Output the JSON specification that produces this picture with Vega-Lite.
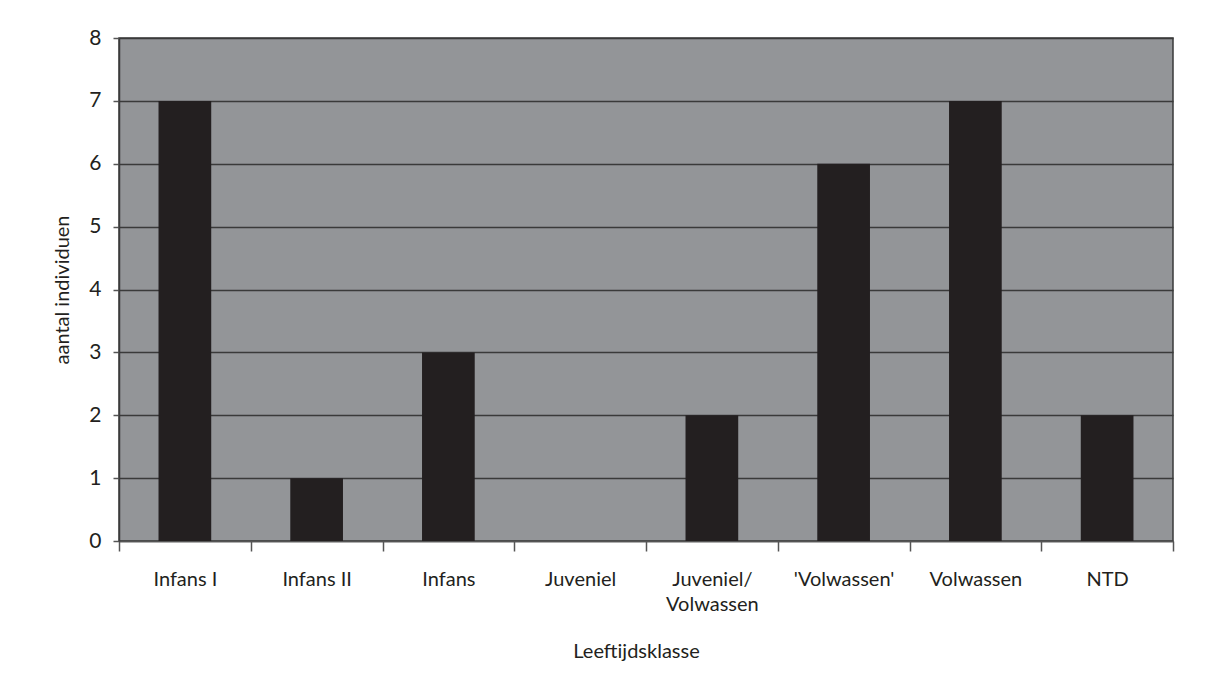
{
  "$schema": "https://vega.github.io/schema/vega-lite/v6.json",
  "autosize": {"type": "none"},
  "width": 1054,
  "height": 503,
  "padding": {"left": 119, "top": 38, "right": 32, "bottom": 132},
  "background": "white",
  "data": {
    "values": [
      {"klasse": "Infans I", "aantal": 7},
      {"klasse": "Infans II", "aantal": 1},
      {"klasse": "Infans", "aantal": 3},
      {"klasse": "Juveniel", "aantal": 0},
      {"klasse": "Juveniel/Volwassen", "aantal": 2},
      {"klasse": "'Volwassen'", "aantal": 6},
      {"klasse": "Volwassen", "aantal": 7},
      {"klasse": "NTD", "aantal": 2}
    ]
  },
  "mark": {"type": "bar", "color": "#231f20", "width": {"band": 0.4}},
  "encoding": {
    "x": {
      "field": "klasse",
      "type": "nominal",
      "sort": null,
      "scale": {"paddingInner": 0, "paddingOuter": 0},
      "axis": {
        "title": "Leeftijdsklasse",
        "titleFont": "Lato",
        "titleFontSize": 20,
        "titleFontWeight": "normal",
        "titleColor": "#231f20",
        "titleX": 517,
        "titleY": 110,
        "titleBaseline": "middle",
        "labelAngle": 0,
        "labelFont": "Lato",
        "labelFontSize": 20,
        "labelColor": "#231f20",
        "labelPadding": 18,
        "labelLineHeight": 25,
        "labelExpr": "datum.value == 'Juveniel/Volwassen' ? ['Juveniel/', 'Volwassen'] : datum.value",
        "tickBand": "extent",
        "tickSize": 10,
        "tickColor": "#555555",
        "tickWidth": 1.5,
        "domainColor": "#555555",
        "domainWidth": 1.5,
        "grid": false
      }
    },
    "y": {
      "field": "aantal",
      "type": "quantitative",
      "scale": {"domain": [0, 8]},
      "axis": {
        "title": "aantal individuen",
        "titleFont": "Lato",
        "titleFontSize": 20,
        "titleFontWeight": "normal",
        "titleColor": "#231f20",
        "titlePadding": 16,
        "values": [0, 1, 2, 3, 4, 5, 6, 7, 8],
        "labelFont": "Lato",
        "labelFontSize": 21,
        "labelColor": "#231f20",
        "labelPadding": 12,
        "tickSize": 6,
        "tickColor": "#555555",
        "tickWidth": 1.5,
        "domainColor": "#3a3a3a",
        "domainWidth": 1.5,
        "grid": true,
        "gridColor": "#3a3a3a",
        "gridWidth": 1.3,
        "gridOpacity": 1
      }
    }
  },
  "config": {
    "view": {"fill": "#939598", "stroke": "#3a3a3a", "strokeWidth": 1.5}
  }
}
